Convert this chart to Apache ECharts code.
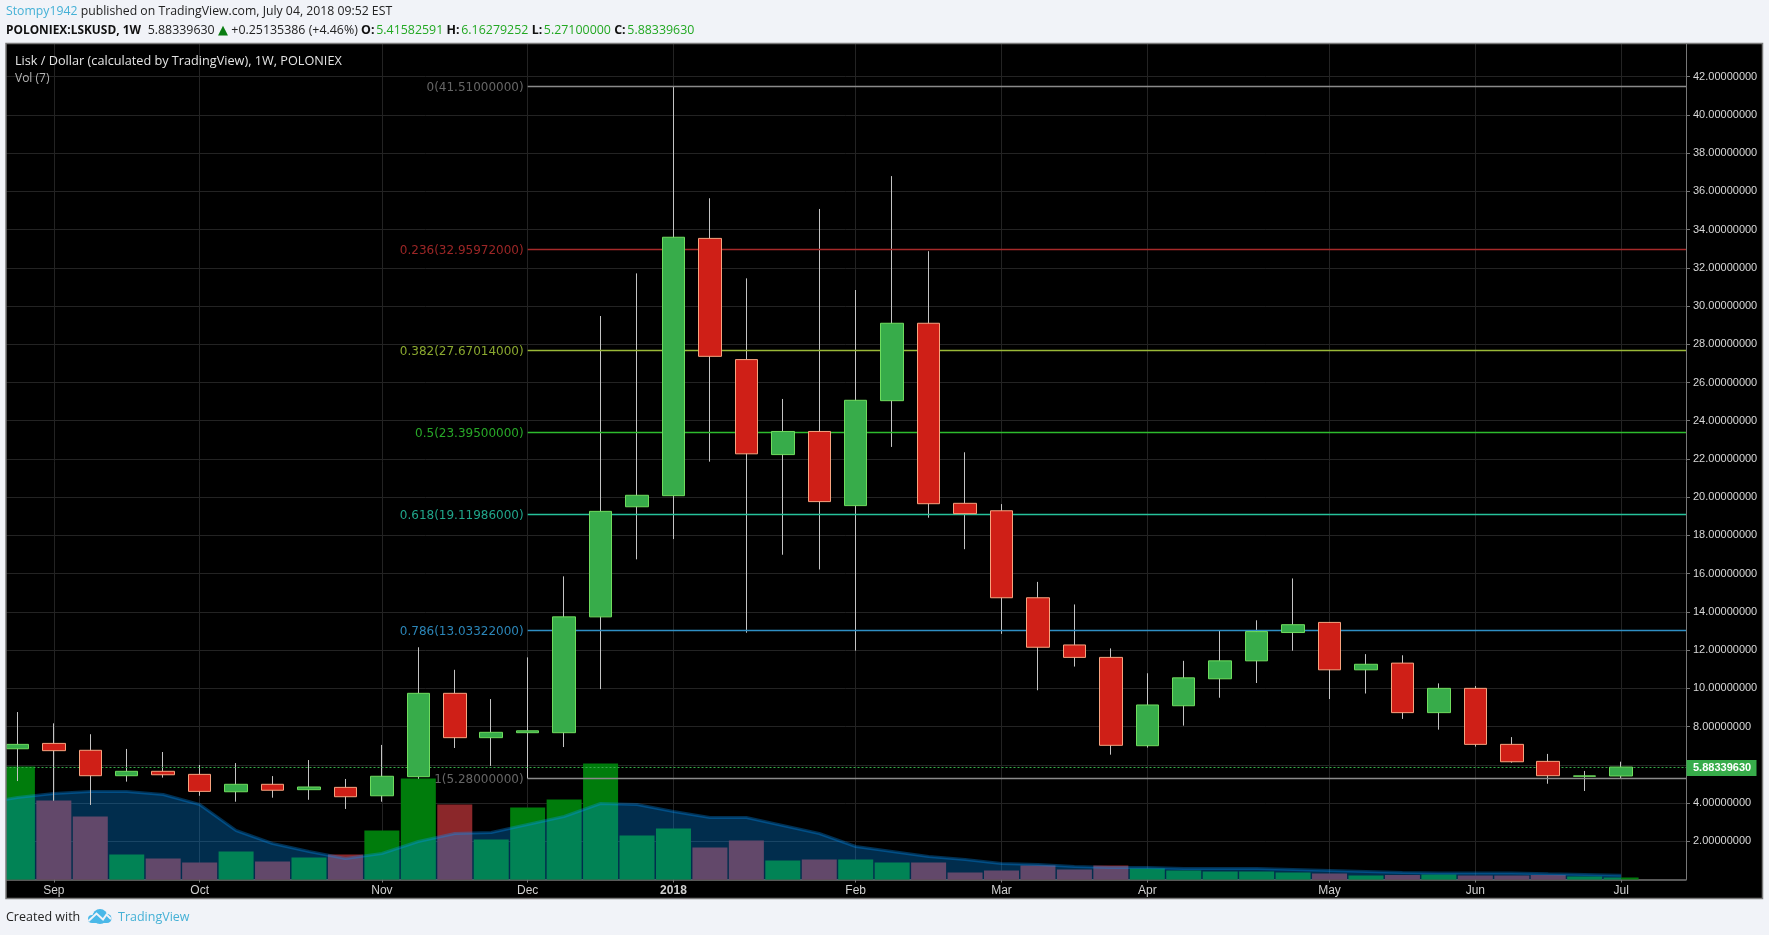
<!DOCTYPE html>
<html>
<head>
<meta charset="utf-8">
<title>LSKUSD</title>
<script src="https://cdn.jsdelivr.net/npm/echarts@6/dist/echarts.min.js"></script>
<style>
  html, body { margin: 0; padding: 0; background: #f1f3f8; }
  #chart { width: 1769px; height: 935px; }
</style>
</head>
<body>
<div id="chart"></div>
<script>
// weekly candles, first one is the week before Sep
var opens  = [6.84,7.12,6.76,5.43,5.66,5.50,4.59,4.98,4.70,4.82,4.38,5.38,9.74,7.42,7.68,7.68,13.74,19.50,20.08,33.54,27.20,22.23,23.44,19.56,25.05,29.10,19.68,19.29,14.74,12.27,11.62,7.00,9.09,10.50,11.44,12.92,13.45,10.97,11.32,8.73,10.00,7.07,6.18,5.40,5.41582591];
var closes = [7.07,6.74,5.43,5.66,5.48,4.61,4.98,4.67,4.84,4.33,5.40,9.74,7.42,7.70,7.78,13.74,19.26,20.10,33.60,27.37,22.27,23.44,19.77,25.07,29.10,19.66,19.14,14.74,12.15,11.62,7.02,9.13,10.55,11.44,12.97,13.33,10.97,11.26,8.73,10.00,7.07,6.16,5.43,5.42,5.88339630];
var lows   = [5.15,4.12,3.90,5.12,5.33,4.38,4.07,4.28,4.17,3.69,4.07,5.27,6.88,5.94,5.28,6.93,9.96,16.75,17.81,21.86,12.91,16.99,16.22,11.97,22.63,18.93,17.28,12.85,9.90,11.14,6.53,6.90,8.05,9.51,10.28,11.97,9.44,9.73,8.40,7.84,6.95,6.11,5.01,4.63,5.27100000];
var highs  = [8.76,8.17,7.60,6.83,6.67,5.99,6.09,5.41,6.25,5.26,7.04,12.15,10.97,9.44,11.62,15.86,29.48,31.71,41.51,35.64,31.45,25.14,35.08,30.84,36.80,32.87,22.35,19.64,15.57,14.39,12.09,10.79,11.44,13.03,13.56,15.75,13.45,11.79,11.73,10.26,10.12,7.45,6.57,5.68,6.16279252];
var volumes = [113,79,63,25,21,17,28,18,22,25,49,101,75,40,72,80,116,44,51,32,39,19,20,20,17,17,7,9,14,10,14,11,9,8,8,7,6,4,4.5,5,4,4,4.5,3,2];
var volumeMa = [82,86,88,88,85,75,49,36,28,21,26,38,46,47,55,63,76,75,68,62,62,54,46,33,28,23,20,16,15,13,12,12,11,11,11,10,9,8,7,6.5,6.5,6.5,5.7,5,4.3];
var volumeMaBefore = 76;
var monthWeeks  = [1,5,10,14,18,23,27,31,36,40,44];
var monthLabels = ['Sep','Oct','Nov','Dec','2018','Feb','Mar','Apr','May','Jun','Jul'];
var fibLevels = ['0','0.236','0.382','0.5','0.618','0.786','1'];
var fibPrices = [41.51,32.95972,27.67014,23.395,19.11986,13.03322,5.28];
var fibColors = ['#8a8a8a','#a62a2a','#9ab838','#2dbb2d','#26c29b','#2f8fc4','#8a8a8a'];
var fibLabelColors = ['#666666','#9c2626','#8aa82f','#28a828','#20a58a','#2b86b8','#666666'];
var fibStartWeek = 14;
var lastPrice = 5.88339630;

var xMin = -0.3265, xMax = 45.78;
var UP = '#37ac4a', DOWN = '#cf1f17';
var PAGE = '#f1f3f8', LOGO = '#4ab8e8';

var chart = echarts.init(document.getElementById('chart'));

var fibLines = fibPrices.map(function (p, i) {
  return [{
    coord: [fibStartWeek, p],
    lineStyle: { color: fibColors[i], width: 1.4, type: 'solid' },
    label: {
      show: true, position: 'start', distance: 4, offset: [0, 1.5],
      formatter: fibLevels[i] + '(' + p.toFixed(8) + ')',
      color: fibLabelColors[i], fontFamily: 'DejaVu Sans', fontSize: 12
    }
  }, { coord: [xMax, p] }];
});

var headerStyles = {
  s: { fontWeight: 'bold', fontSize: 11.9, fontFamily: 'Open Sans', fill: '#111' },
  k: { fontWeight: 'bold', fontSize: 12.4, fontFamily: 'Open Sans', fill: '#111', padding: [0, 1.7, 0, 0] },
  n: { fontSize: 12.4, fontFamily: 'Open Sans', fill: '#222' },
  g: { fontSize: 12.4, fontFamily: 'Open Sans', fill: '#22a822' },
  t: { fontSize: 13, fontFamily: 'DejaVu Sans', fill: '#0a7d12' },
  a: { fontSize: 12.25, fontFamily: 'Open Sans', fill: '#222' },
  u: { fontSize: 12.25, fontFamily: 'Open Sans', fill: '#45b1d6' }
};

chart.setOption({
  animation: false,
  backgroundColor: PAGE,
  grid: { left: 5.5, top: 44, width: 1680.5, height: 835.5 },
  xAxis: {
    type: 'value', min: xMin, max: xMax,
    axisLine: { show: true, onZero: false, lineStyle: { color: '#777', width: 1.5 } },
    axisTick: { show: true, length: 3, lineStyle: { color: '#777' }, customValues: monthWeeks },
    axisLabel: {
      customValues: monthWeeks, margin: 5, color: '#d0d0d0', fontFamily: 'Liberation Sans', fontSize: 12,
      formatter: function (v) {
        var s = monthLabels[monthWeeks.indexOf(v)];
        return s === '2018' ? '{y|2018}' : s;
      },
      rich: { y: { fontWeight: 'bold', fontFamily: 'Liberation Sans', fontSize: 12, color: '#d0d0d0' } }
    },
    splitLine: { show: true, lineStyle: { color: '#232323', width: 1 } }
  },
  yAxis: [{
    type: 'value', position: 'right', min: 0, max: 43.71, interval: 2,
    axisLine: { show: true, onZero: false, lineStyle: { color: '#777', width: 1 } },
    axisTick: { show: true, length: 4, lineStyle: { color: '#777' } },
    axisLabel: {
      showMinLabel: false, showMaxLabel: false, margin: 7, color: '#d8d8d8',
      fontFamily: 'Liberation Sans', fontSize: 11, padding: [4, 0, 0, 0],
      formatter: function (v) { return v.toFixed(8); }
    },
    splitLine: { show: true, showMinLine: false, showMaxLine: false, lineStyle: { color: '#232323', width: 1 } }
  }, {
    type: 'value', show: false, min: 0, max: 835.5, splitLine: { show: false }
  }],
  series: [{
    name: 'Vol', type: 'bar', yAxisIndex: 1, z: 1, barWidth: 35, clip: true,
    data: volumes.map(function (v, i) {
      return {
        value: [i, v],
        itemStyle: { color: closes[i] >= opens[i] ? '#007c0c' : '#8b272a' }
      };
    })
  }, {
    name: 'Vol MA', type: 'line', yAxisIndex: 1, z: 2, symbol: 'none',
    lineStyle: { color: 'rgba(4,150,255,0.32)', width: 3 },
    areaStyle: { color: 'rgba(4,150,255,0.3)', opacity: 1 },
    data: [[-1, volumeMaBefore]].concat(volumeMa.map(function (v, i) { return [i, v]; }))
  }, {
    // fib levels and last price sit under the candles
    name: 'Levels', type: 'line', z: 3, symbol: 'none', data: [],
    markLine: {
      silent: true, symbol: 'none', animation: false,
      data: fibLines.concat([[{
        coord: [xMin, lastPrice],
        lineStyle: { color: '#37ac4a', width: 1, type: [2, 2] },
        label: { show: false }
      }, { coord: [xMax, lastPrice] }]])
    }
  }, {
    name: 'Wicks', type: 'candlestick', z: 4, barWidth: 1,
    itemStyle: { color: '#c4c4c4', color0: '#c4c4c4', borderColor: '#c4c4c4', borderColor0: '#c4c4c4', borderWidth: 1 },
    data: opens.map(function (o, i) { return [i, o, closes[i], lows[i], highs[i]]; })
  }, {
    name: 'Bodies', type: 'candlestick', z: 5, barWidth: 23,
    itemStyle: { color: UP, color0: DOWN, borderColor: '#6fdc5e', borderColor0: '#f7a37f', borderWidth: 1 },
    data: opens.map(function (o, i) {
      var lo = Math.min(o, closes[i]), hi = Math.max(o, closes[i]);
      return [i, o, closes[i], lo, hi];
    })
  }],
  graphic: [
    { type: 'rect', z: -5, silent: true, shape: { x: 6, y: 43.5, width: 1756.5, height: 855 }, style: { fill: '#000' } },
    // first volume bar runs past the pane, page colour hides that part
    { type: 'rect', z: 19, silent: true, shape: { x: 0, y: 43, width: 6, height: 856 }, style: { fill: PAGE } },
    { type: 'rect', z: 19, silent: true, shape: { x: 6, y: 43.5, width: 1756.5, height: 855 },
      style: { fill: 'none', stroke: '#7a7a7a', lineWidth: 1.5 } },
    { type: 'text', left: 6, top: 6, z: 20, style: { rich: headerStyles,
      text: '{u|Stompy1942} {a|published on TradingView.com, July 04, 2018 09:52 EST}' } },
    { type: 'text', left: 6, top: 24, z: 20, style: { rich: headerStyles,
      text: '{s|POLONIEX:LSKUSD, 1W}  {n|5.88339630} {t|▲} {n|+0.25135386 (+4.46%)} {k|O:}{g|5.41582591} {k|H:}{g|6.16279252} {k|L:}{g|5.27100000} {k|C:}{g|5.88339630}' } },
    { type: 'text', left: 15, top: 55, z: 20, style: { text: 'Lisk / Dollar (calculated by TradingView), 1W, POLONIEX',
      fill: '#e4e4e4', font: '12.7px "Open Sans"' } },
    { type: 'text', left: 15, top: 73, z: 20, style: { text: 'Vol (7)', fill: '#b4b4b4', font: '12px "Open Sans"' } },
    { type: 'rect', z: 20, silent: true, shape: { x: 1686.5, y: 760, width: 70, height: 16 }, style: { fill: '#37ac4a' } },
    { type: 'text', left: 1693, top: 762, z: 21, style: { text: lastPrice.toFixed(8), fill: '#fff', font: 'bold 11px "Liberation Sans"' } },
    { type: 'text', left: 6, top: 911, z: 20, style: { text: 'Created with', fill: '#222', font: '12.5px "Open Sans"' } },
    // logo: cloud with a zigzag cut through it
    { type: 'circle', z: 20, silent: true, shape: { cx: 92, cy: 919, r: 4 }, style: { fill: LOGO } },
    { type: 'circle', z: 20, silent: true, shape: { cx: 100, cy: 916.5, r: 7.5 }, style: { fill: LOGO } },
    { type: 'circle', z: 20, silent: true, shape: { cx: 107, cy: 918.5, r: 4.5 }, style: { fill: LOGO } },
    { type: 'rect', z: 20, silent: true, shape: { x: 92, y: 916, width: 15, height: 7 }, style: { fill: LOGO } },
    { type: 'polyline', z: 21, silent: true, shape: { points: [[88.5, 921], [96.5, 913.5], [103, 919.5], [106.5, 914.5], [111, 919]] },
      style: { stroke: PAGE, lineWidth: 2, fill: 'none' } },
    { type: 'text', left: 118, top: 911, z: 20, style: { text: 'TradingView', fill: '#45b1d6', font: '12.5px "Open Sans"' } }
  ]
});
</script>
</body>
</html>
